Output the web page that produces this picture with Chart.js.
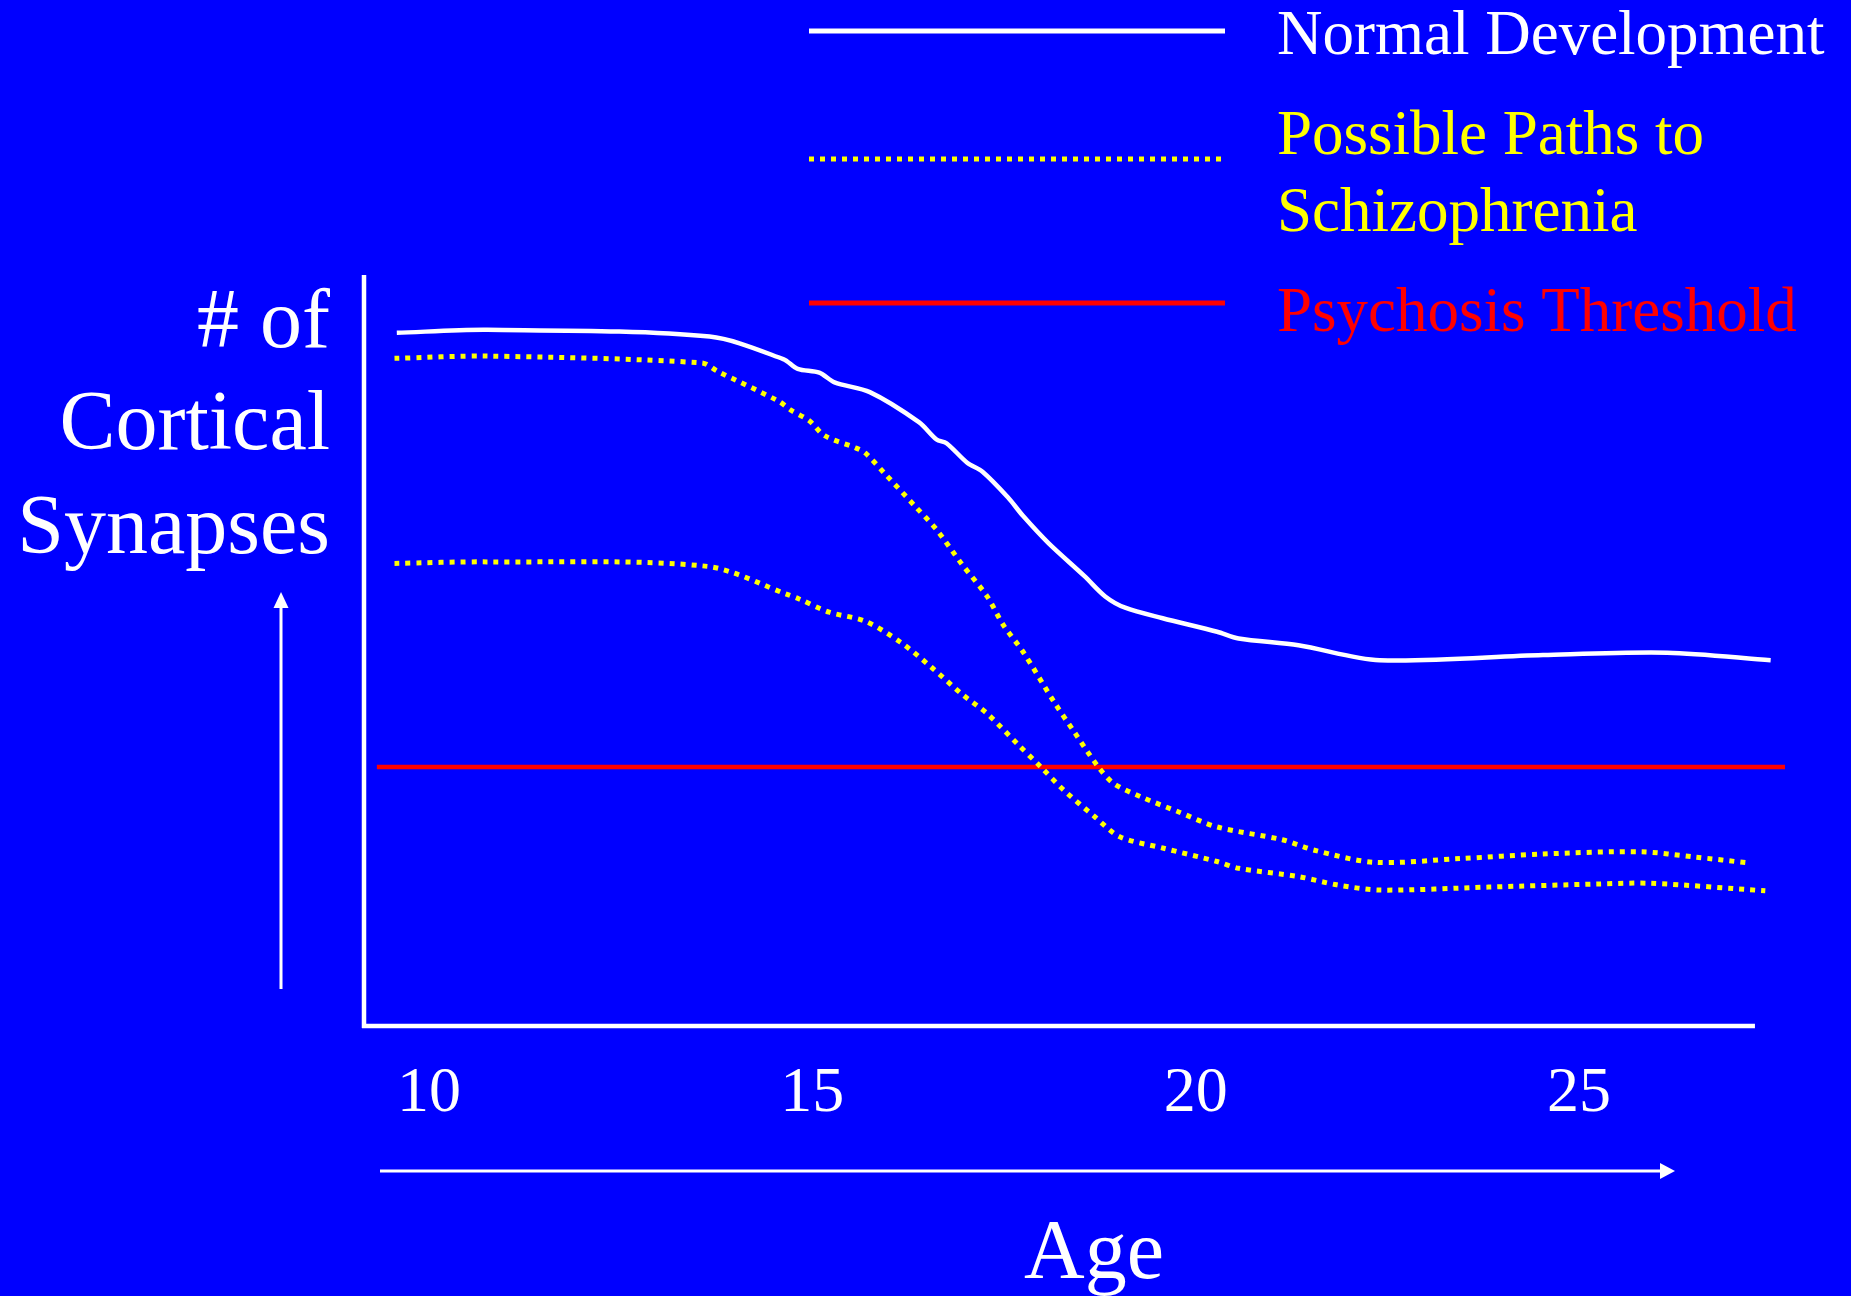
<!DOCTYPE html>
<html><head><meta charset="utf-8">
<script src="https://cdn.jsdelivr.net/npm/chart.js@4/dist/chart.umd.min.js"></script>
<style>html,body{margin:0;padding:0;background:#0000FF;overflow:hidden}canvas{display:block}</style>
</head><body><canvas id="c" width="1851" height="1296"></canvas>
<script>
// ---- data (age in years, synapse count in arbitrary units 0-100) ----
const normalAge   = [9.58,10.76,13.66,14.62,14.81,15.09,15.29,15.75,16.39,16.62,16.75,17.02,17.22,17.55,17.75,18.08,18.55,18.82,19.08,19.57,20.28,20.56,21.34,22.40,24.53,26.15,27.50];
const normalValue = [92.3,92.7,91.8,88.8,87.5,87.0,85.7,84.4,80.4,78.1,77.6,75.0,73.8,70.4,67.9,64.3,59.9,57.2,55.7,54.3,52.5,51.6,50.7,48.7,49.4,49.7,48.7];

const pathAAge   = [9.55,10.76,13.56,13.76,14.56,14.72,14.96,15.16,15.56,15.69,15.95,16.35,16.62,16.95,17.28,17.49,17.75,18.15,18.42,18.73,18.93,19.29,19.78,20.28,21.13,21.55,22.33,23.46,24.53,25.80,26.51,27.22];
const pathAValue = [88.9,89.2,88.3,87.2,83.2,82.0,80.6,78.6,77.0,76.3,73.5,69.1,66.1,61.5,57.2,53.4,49.8,43.2,39.1,34.5,32.3,30.5,28.5,26.5,24.8,23.4,21.8,22.3,22.9,23.2,22.5,21.7];

const pathBAge   = [9.55,10.76,13.63,14.69,14.82,15.22,15.69,16.15,16.55,16.95,17.28,17.68,17.98,18.28,18.68,19.01,19.57,20.28,20.56,21.34,21.84,22.40,23.82,25.23,25.94,27.43];
const pathBValue = [61.6,61.8,61.2,57.4,56.9,55.1,53.9,51.1,47.8,44.2,41.6,37.5,34.5,31.4,27.9,25.2,23.7,21.9,21.0,19.9,18.8,18.1,18.5,18.9,19.0,18.0];

const thresholdAge   = [9.32, 27.69];
const thresholdValue = [34.5, 34.5];

const xTickLabels = ["10","15","20","25"];
const xTickValues = [10,15,20,25];
const xTitle = "Age";
const yTitleLines = ["# of","Cortical","Synapses"];
const legendNormal = ["Normal Development"];
const legendPaths = ["Possible Paths to","Schizophrenia"];
const legendThreshold = ["Psychosis Threshold"];

const BLUE="#0000FF", WHITE="#FFFFFF", YELLOW="#FFFF00", RED="#FF0000";
const SERIF="'Liberation Serif','Times New Roman',serif";

function pts(xs, ys){ return xs.map((x,i)=>({x:x,y:ys[i]})); }

const decor = {
  id:'decor',
  beforeDraw(chart){
    const c=chart.ctx; c.save(); c.fillStyle=BLUE; c.fillRect(0,0,chart.width,chart.height); c.restore();
  },
  beforeDatasetsDraw(chart){
    const c=chart.ctx, xs=chart.scales.x, ys=chart.scales.y;
    c.save();
    c.strokeStyle=WHITE; c.lineWidth=4.5; c.lineCap='butt';
    // axes lines
    const x0=xs.getPixelForValue(xs.min), yb=ys.getPixelForValue(0), yt=ys.getPixelForValue(ys.max);
    c.beginPath(); c.moveTo(x0, yt); c.lineTo(x0, yb+2); c.stroke();
    c.beginPath(); c.moveTo(x0-2, yb); c.lineTo(xs.getPixelForValue(27.295), yb); c.stroke();
    c.restore();
  },
  afterDraw(chart){
    const c=chart.ctx, xs=chart.scales.x;
    c.save();
    c.fillStyle=WHITE; c.textBaseline='alphabetic';
    // tick labels
    c.font='64px '+SERIF; c.textAlign='center';
    xTickValues.forEach((v,i)=>c.fillText(xTickLabels[i], xs.getPixelForValue(v), 1111));
    // x title
    c.font='84px '+SERIF;
    c.fillText(xTitle, 1094, 1278);
    // y title
    c.textAlign='right';
    const yb=[347,449,553];
    yTitleLines.forEach((t,i)=>c.fillText(t, 330, yb[i]));
    // arrows
    c.strokeStyle=WHITE; c.lineWidth=3;
    c.beginPath(); c.moveTo(380,1171); c.lineTo(1662,1171); c.stroke();
    c.beginPath(); c.moveTo(1675,1171); c.lineTo(1660,1163); c.lineTo(1660,1179); c.closePath(); c.fill();
    c.beginPath(); c.moveTo(281,989); c.lineTo(281,606); c.stroke();
    c.beginPath(); c.moveTo(281,592); c.lineTo(273.5,608); c.lineTo(288.5,608); c.closePath(); c.fill();
    // legend
    c.lineWidth=5;
    c.strokeStyle=WHITE; c.beginPath(); c.moveTo(809,31); c.lineTo(1225,31); c.stroke();
    c.strokeStyle=YELLOW; c.setLineDash([5,6]); c.beginPath(); c.moveTo(809,159); c.lineTo(1222,159); c.stroke();
    c.setLineDash([]);
    c.strokeStyle=RED; c.beginPath(); c.moveTo(809,303); c.lineTo(1225,303); c.stroke();
    c.textAlign='left'; c.font='63px '+SERIF;
    c.fillStyle=WHITE; c.fillText(legendNormal[0],1277,54);
    c.fillStyle=YELLOW; c.fillText(legendPaths[0],1277,154); c.fillText(legendPaths[1],1277,231);
    c.fillStyle=RED; c.fillText(legendThreshold[0],1277,331);
    c.restore();
  }
};

new Chart(document.getElementById('c'), {
  type:'line',
  data:{datasets:[
    {label:'Psychosis Threshold', data:pts(thresholdAge,thresholdValue), borderColor:RED, borderWidth:4.5, pointRadius:0, tension:0, order:4},
    {label:'Normal Development', data:pts(normalAge,normalValue), borderColor:WHITE, borderWidth:4.5, pointRadius:0, tension:0.3, order:1},
    {label:'Possible Paths to Schizophrenia', data:pts(pathAAge,pathAValue), borderColor:YELLOW, borderWidth:5, borderDash:[5,6], pointRadius:0, tension:0.3, order:2},
    {label:'Possible Paths to Schizophrenia (2)', data:pts(pathBAge,pathBValue), borderColor:YELLOW, borderWidth:5, borderDash:[5,6], pointRadius:0, tension:0.3, order:3}
  ]},
  options:{
    responsive:false, animation:false, devicePixelRatio:1,
    layout:{padding:{left:364,right:66,top:275,bottom:270}},
    plugins:{legend:{display:false}, tooltip:{enabled:false}},
    scales:{
      x:{type:'linear', min:9.152, max:27.687, display:false},
      y:{type:'linear', min:0, max:100, display:false}
    }
  },
  plugins:[decor]
});
</script>
</body></html>
